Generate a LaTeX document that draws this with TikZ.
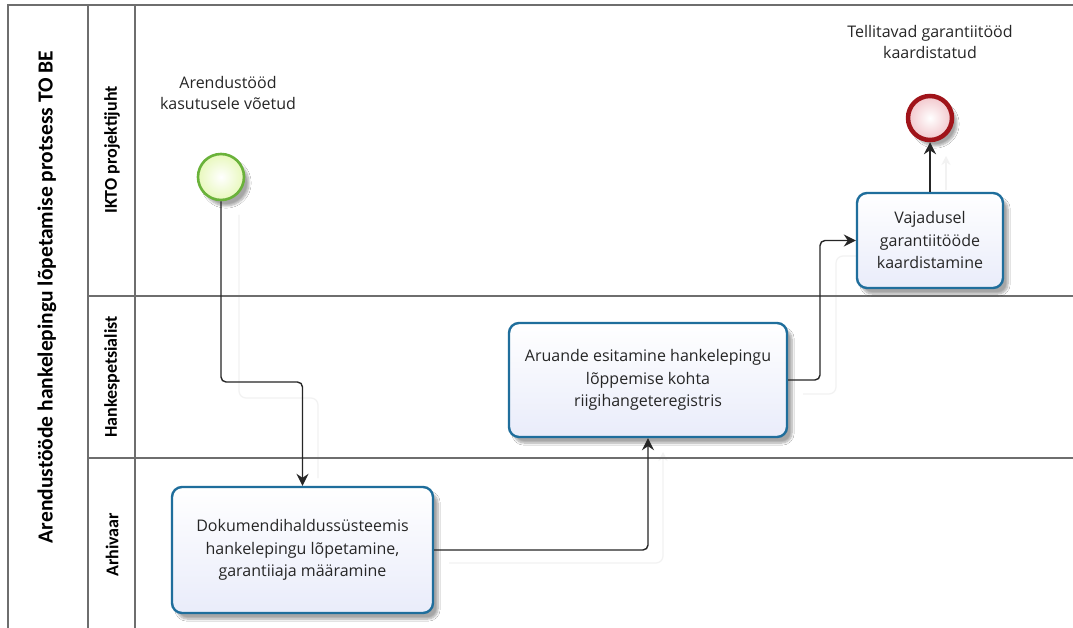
\documentclass[tikz,border=0pt]{standalone}
\usepackage{fontspec}
\setmainfont{Open Sans}
\newfontfamily\lanefont{Carlito}
\usetikzlibrary{arrows.meta,shadows.blur}

\definecolor{taskblue}{HTML}{1F6E9C}
\definecolor{taskfill}{HTML}{E9ECFA}
\definecolor{startgreen}{HTML}{6AB23A}
\definecolor{startfill}{HTML}{E8F8BC}
\definecolor{endred}{HTML}{A0141A}
\definecolor{endfill}{HTML}{F2C6CB}
\definecolor{laneline}{HTML}{6E6E6E}

\begin{document}
\begin{tikzpicture}[x=1pt,y=-1pt,
  laneln/.style={draw=laneline, line width=1.4pt},
  lanelabel/.style={font=\lanefont\bfseries\fontsize{18}{20}\selectfont, rotate=90},
  task/.style={draw=taskblue, line width=2.4pt, rounded corners=10pt,
    top color=white, bottom color=taskfill, align=center,
    font=\fontsize{16}{22.5}\selectfont, text=black!85, inner sep=0pt,
    blur shadow={shadow xshift=5pt, shadow yshift=-6pt, shadow opacity=35, shadow blur steps=8}},
  startev/.style={circle, draw=startgreen, line width=2.6pt, minimum size=46pt,
    inner color=white, outer color=startfill, inner sep=0pt,
    blur shadow={shadow xshift=5pt, shadow yshift=-6pt, shadow opacity=35, shadow blur steps=8}},
  endev/.style={circle, draw=endred, line width=4.5pt, minimum size=44pt,
    inner color=white, outer color=endfill, inner sep=0pt,
    blur shadow={shadow xshift=5pt, shadow yshift=-6pt, shadow opacity=35, shadow blur steps=8}},
  evlabel/.style={align=center, font=\fontsize{16}{21}\selectfont, text=black!85},
  flow/.style={draw=black!85, line width=1.4pt, rounded corners=5pt,
    -{Stealth[length=12pt,width=12pt,inset=4pt]}},
  ghost/.style={draw=black!5, line width=1.2pt, rounded corners=7pt},
  ghostarrow/.style={ghost, -{Stealth[length=9pt,width=9pt,inset=3pt]}},
]
\useasboundingbox (0,0) rectangle (1073,628);
\fill[white] (0,0) rectangle (1073,628);

% faint echoes of the sequence flows
\draw[ghost] (239,215) -- (239,398) -- (318,398) -- (318,478);
\draw[ghostarrow] (449,563) -- (663,563) -- (663,452);
\draw[ghost] (803,394) -- (836,394) -- (836,256) -- (870,256);
\draw[ghostarrow] (946,190) -- (946,156);

% pool and lanes
\draw[laneln] (1073,5) -- (8,5) -- (8,628);
\draw[laneln] (88,5) -- (88,628);
\draw[laneln] (135,5) -- (135,628);
\draw[laneln] (88,296) -- (1073,296);
\draw[laneln] (88,458) -- (1073,458);

\node[lanelabel, font=\lanefont\bfseries\fontsize{21.5}{23}\selectfont] (pool) at (47,297) {Arendustööde hankelepingu lõpetamise protsess TO BE};
\node[lanelabel] (laneA) at (112,150) {IKTO projektijuht};
\node[lanelabel] (laneB) at (112,377) {Hankespetsialist};
\node[lanelabel] (laneC) at (112,545) {Arhivaar};

% events
\node[startev] (start) at (221,177) {};
\node[evlabel] (startlbl) at (228,93) {Arendustööd\\kasutusele võetud};
\node[endev] (end) at (930,118) {};
\node[evlabel] (endlbl) at (930,42) {Tellitavad garantiitööd\\kaardistatud};

% tasks
\node[task, minimum width=261pt, minimum height=126pt] (t1) at (302.5,550)
  {Dokumendihaldussüsteemis\\hankelepingu lõpetamine,\\garantiiaja määramine};
\node[task, minimum width=278pt, minimum height=114pt] (t2) at (648,380)
  {Aruande esitamine hankelepingu\\lõppemise kohta\\riigihangeteregistris};
\node[task, minimum width=146pt, minimum height=95pt] (t3) at (930,240.5)
  {Vajadusel\\garantiitööde\\kaardistamine};

% sequence flows
\coordinate (b1) at (262,382);
\coordinate (b3) at (820,310);
\draw[flow] (start.south) |- (b1) -| (t1.north);
\draw[flow] (t1.east) -| (t2.south);
\draw[flow] (t2.east) -| (b3) |- (t3.west);
\draw[flow] (t3.north) -- (end.south);
\end{tikzpicture}
\end{document}
